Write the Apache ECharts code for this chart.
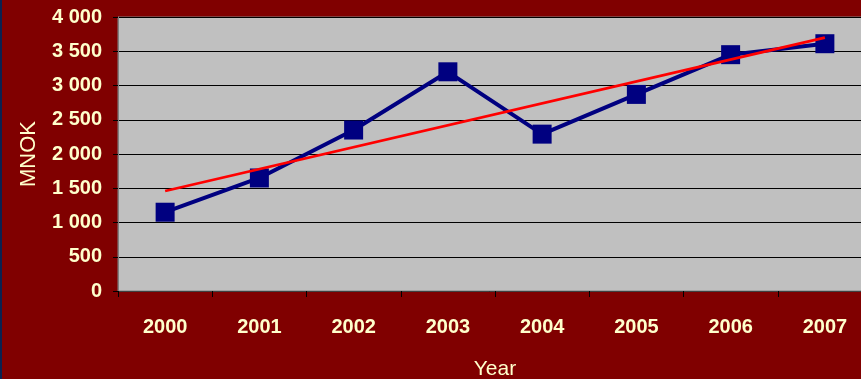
<!DOCTYPE html>
<html><head><meta charset="utf-8">
<script src="https://cdn.jsdelivr.net/npm/echarts@6/dist/echarts.min.js"></script>
<style>
html,body{margin:0;padding:0;background:#800000;}
#c{width:861px;height:379px;position:relative;}
#edge{position:absolute;left:0;top:0;width:2px;height:379px;background:#0b2250;z-index:10;}
</style></head>
<body>
<div id="c"></div><div id="edge"></div>
<script>
const years = ['2000','2001','2002','2003','2004','2005','2006','2007'];
const values = [1150, 1650, 2350, 3200, 2290, 2870, 3450, 3610];
const trendEnds = [1460, 3700];
const yTickLabels = {0:'0',500:'500',1000:'1 000',1500:'1 500',2000:'2 000',2500:'2 500',3000:'3 000',3500:'3 500',4000:'4 000'};

const trend = years.map((y,i)=> i===0 ? trendEnds[0] : (i===years.length-1 ? trendEnds[1] : null));
const cream = '#ffffcc';
const font = "'Liberation Sans', Arial, sans-serif";
const chart = echarts.init(document.getElementById('c'), null, {renderer:'canvas'});
chart.setOption({
  backgroundColor:'#800000',
  animation:false,
  grid:{left:118, top:17, width:754, height:274, containLabel:false, outerBoundsMode:'none',
        show:true, backgroundColor:'#c0c0c0', borderColor:'#808080', borderWidth:1},
  xAxis:{
    type:'category', data:years, boundaryGap:true,
    name:'Year', nameLocation:'middle', nameGap:68,
    nameTextStyle:{color:cream, fontSize:21, fontFamily:font},
    axisLine:{lineStyle:{color:'#404040', width:1}},
    axisTick:{show:true, length:6, lineStyle:{color:'#000'}},
    axisLabel:{color:cream, fontSize:20, fontWeight:'bold', fontFamily:font, margin:26}
  },
  yAxis:{
    type:'value', min:0, max:4000, interval:500,
    name:'MNOK', nameLocation:'middle', nameGap:78, nameRotate:90,
    nameTextStyle:{color:cream, fontSize:22, fontFamily:font},
    axisLine:{show:true, lineStyle:{color:'#808080'}},
    axisTick:{show:true, length:5, lineStyle:{color:'#000'}},
    axisLabel:{color:cream, fontSize:20, fontWeight:'bold', fontFamily:font, margin:16,
      formatter:v=> yTickLabels[v] !== undefined ? yTickLabels[v] : String(v)},
    splitLine:{show:true, lineStyle:{color:'#000', width:1}}
  },
  series:[
    {type:'line', data:values, symbol:'rect', symbolSize:19, z:2,
     lineStyle:{color:'#000080', width:4}, itemStyle:{color:'#000080'}},
    {type:'line', data:trend, connectNulls:true, symbol:'none', z:3,
     lineStyle:{color:'#ff0000', width:2.8}}
  ]
});
</script>
</body></html>
